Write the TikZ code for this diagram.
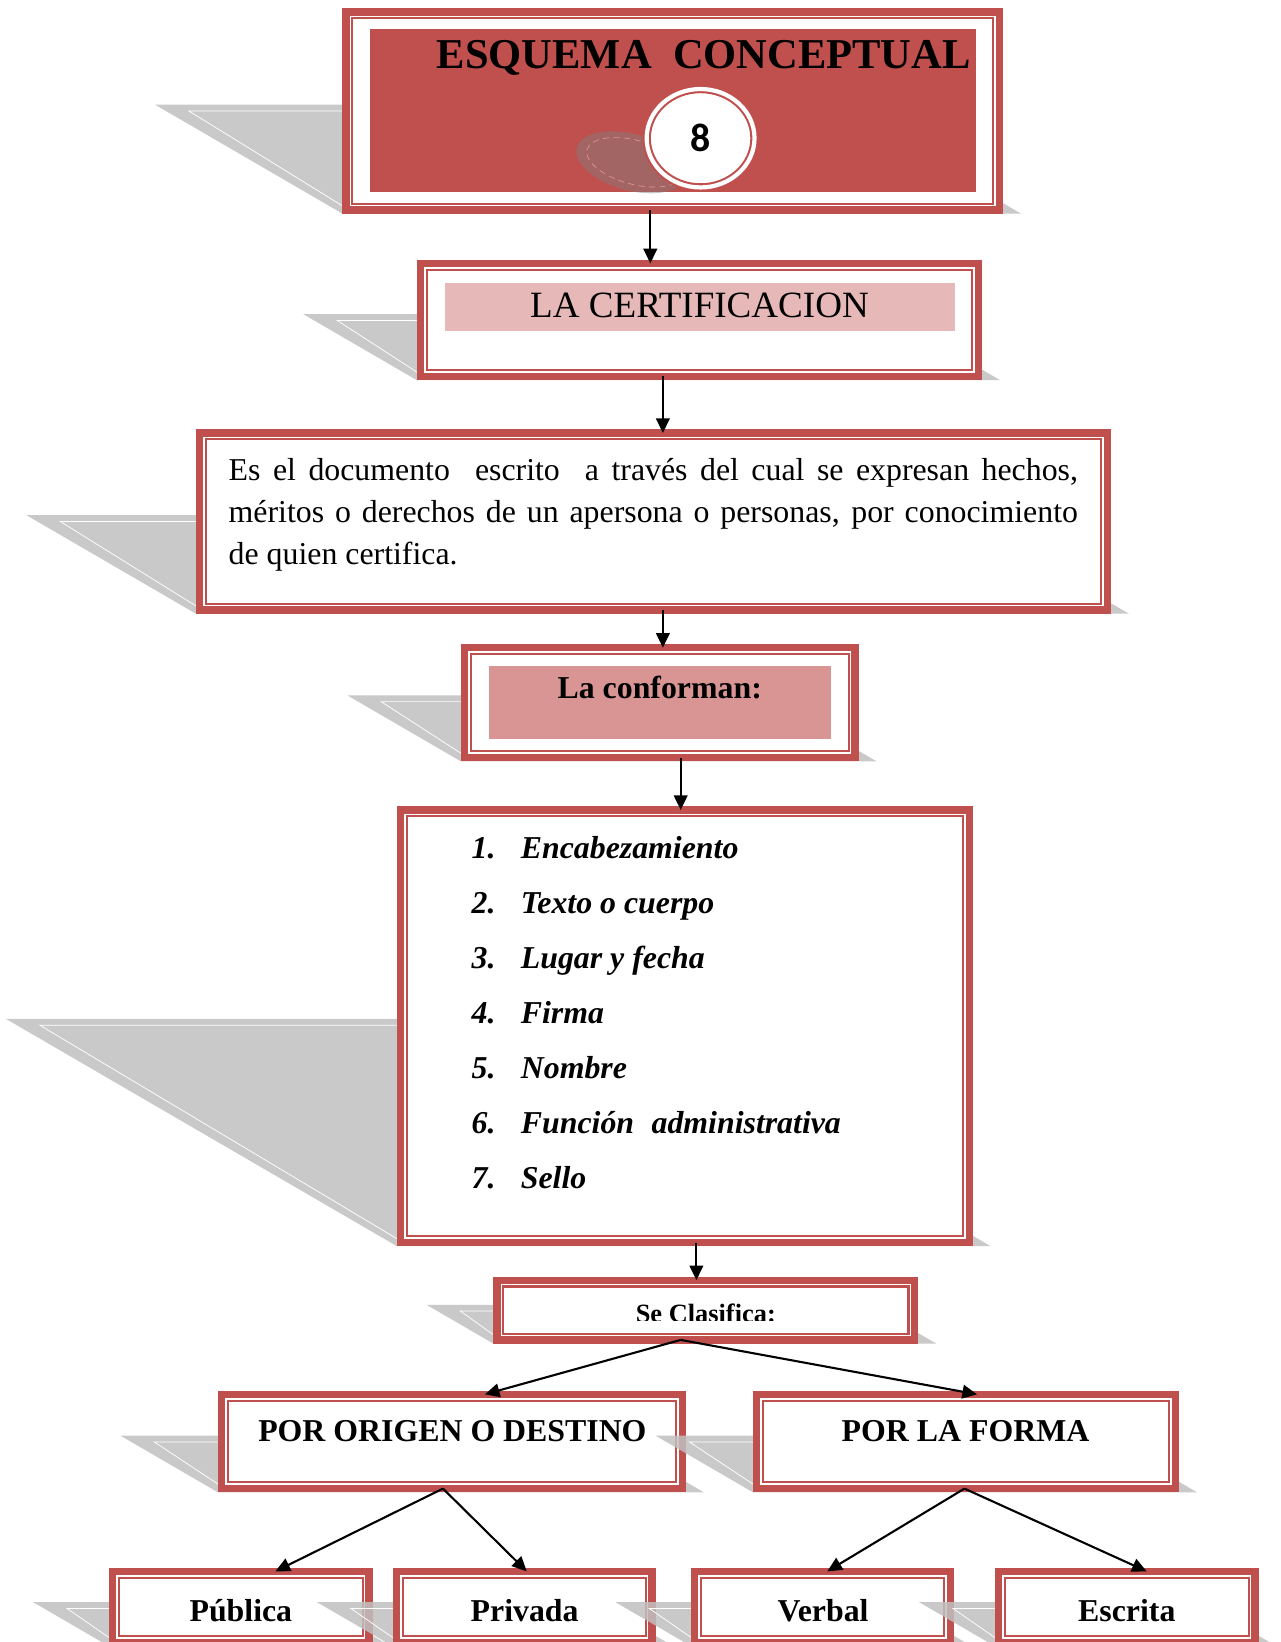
\documentclass[tikz,border=0pt]{standalone}
\usepackage{fontspec}
\setmainfont{Liberation Serif}
\newfontfamily\numfont{Carlito}
\usetikzlibrary{arrows.meta,calc,positioning,shapes.geometric}

\definecolor{certred}{HTML}{C0504D}
\definecolor{certpink}{HTML}{E6B8B7}
\definecolor{confpink}{HTML}{D99594}
\definecolor{shadowgrey}{HTML}{C0C0C0}

\tikzset{
  frame/.style 2 args={draw=certred, line width=3.5pt, fill=white,
    inner sep=0pt, outer sep=0pt,
    minimum width={(#1-7)*0.5pt}, minimum height={(#2-7)*0.5pt},
    path picture={\draw[certred, line width=1pt]
      ([shift={(3pt,-3pt)}]path picture bounding box.north west) rectangle
      ([shift={(-3pt,3pt)}]path picture bounding box.south east);}},
  numring/.style={ellipse, draw=certred, line width=1pt, double=white,
    double distance=2pt, fill=white, inner sep=0pt,
    minimum width=51.5pt, minimum height=47pt,
    font=\numfont\fontsize{19}{22}\selectfont\bfseries},
  titlelabel/.style={inner sep=0pt, font=\fontsize{20.3}{24}\selectfont\bfseries},
  plainlabel/.style={inner sep=0pt, font=\fontsize{17.7}{21}\selectfont},
  boldlabel/.style={inner sep=0pt, font=\fontsize{15.2}{18}\selectfont\bfseries},
  itemlabel/.style={inner sep=0pt, anchor=base west,
    font=\fontsize{15.2}{18}\selectfont\bfseries\itshape},
  link/.style={line width=1pt, -{Triangle[length=7pt,width=6.5pt]}}
}

% box with its grey drop shadow: name, x0, y0, x1, y1, shadow height
\newcommand{\certframe}[6]{%
  \fill[shadowgrey, fill opacity=.85] ({#2},{#5}) -- ({#4+17},{#5})
    -- ({#4+17-1.72*#6},{#5-#6}) -- ({#2-1.72*#6},{#5-#6}) -- cycle;
  \draw[white, line width=.35pt] ({#2+12},{#5}) -- ({#2+22-1.72*#6+10.3},{#5-#6+6})
    -- ({#4-20},{#5-#6+6});
  \node[frame={#4-#2}{#5-#3}] (#1) at ({(#2+#4)/2},{(#3+#5)/2}) {};}

\begin{document}
\begin{tikzpicture}[x=0.5pt, y=-0.5pt]

  \useasboundingbox (0,0) rectangle (1223,1568);
  \clip (0,0) rectangle (1223,1568);

  \certframe{title}{327}{8}{958}{204}{104}
  \fill[certred] (353,28) rectangle (932,183);
  \node[titlelabel] (titletext) at (672,55) {ESQUEMA\ \ CONCEPTUAL};
  \fill[gray, opacity=.45, rotate around={-15:(603,155)}]
    (603,155) ellipse [x radius=54, y radius=27];
  \draw[certpink!70!certred, densely dashed, line width=.3pt, rotate around={-15:(606,155)}]
    (606,155) ellipse [x radius=47, y radius=21];
  \node[numring] (num) at (669,132) {8};

  \certframe{cert}{398}{248}{938}{363}{63}
  \fill[certpink] (425,270) rectangle (912,316);
  \node[plainlabel] (certtext) at (668,292) {LA CERTIFICACION};

  \certframe{defn}{187}{410}{1061}{586}{94}
  \node[anchor=base west, inner sep=0pt, font=\fontsize{15.2}{20}\selectfont]
    (defntext) at (218,459) {\parbox[t]{405.5pt}{Es el documento\ \ escrito\ \ a
    través del cual se expresan hechos,\linebreak méritos o derechos de un
    apersona o personas, por conocimiento\linebreak de quien certifica.}};

  \certframe{conf}{440}{615}{820}{727}{63}
  \fill[confpink] (467,636) rectangle (794,706);
  \node[boldlabel] (conftext) at (630,657) {La conforman:};

  \certframe{list}{379}{770}{929}{1190}{217}
  \foreach \entry [count=\i] in {Encabezamiento, Texto o cuerpo, Lugar y fecha,
      Firma, Nombre, Función\hspace{.55em}administrativa, Sello} {
    \node[itemlabel] (num\i) at (450,{820+52.5*(\i-1)}) {\i.};
    \node[itemlabel] (item\i) at (497,{820+52.5*(\i-1)}) {\entry};
  }

  \certframe{clas}{471}{1219}{877}{1283}{37}
  \begin{scope}
    \clip (471,1219) rectangle (877,1261);
    \node[anchor=base, inner sep=0pt, font=\fontsize{12.6}{14}\selectfont\bfseries]
      (clastext) at (674,1263) {Se Clasifica:};
  \end{scope}

  \certframe{origen}{208}{1328}{655}{1425}{54}
  \node[boldlabel] (origentext) at (432,1367) {POR ORIGEN O DESTINO};

  \certframe{forma}{719}{1328}{1126}{1425}{54}
  \node[boldlabel] (formatext) at (922,1367) {POR LA FORMA};

  \certframe{publica}{104}{1497}{356}{1572}{42}
  \node[boldlabel] (publicatext) at (230,1538) {Pública};

  \certframe{privada}{375}{1497}{626}{1572}{42}
  \node[boldlabel] (privadatext) at (501,1538) {Privada};

  \certframe{verbal}{660}{1497}{911}{1572}{42}
  \node[boldlabel] (verbaltext) at (786,1538) {Verbal};

  \certframe{escrita}{950}{1497}{1202}{1572}{42}
  \node[boldlabel] (escritatext) at (1076,1538) {Escrita};

  \draw [link] (title.south -| 621,0) -- (cert.north -| 621,0) ;

  \draw [link] (cert.south -| 633,0) -- (defn.north -| 633,0) ;

  \draw [link] (defn.south -| 633,0) -- (conf.north -| 633,0) ;

  \draw [link] (conf.south -| 650,0) -- (list.north -| 650,0) ;

  \draw [link] (list.south -| 665,0) -- (clas.north -| 665,0) ;

  \draw [link] (clas.south -| 650,0) -- (origen.north -| 463,0) ;
  \draw [link] (clas.south -| 650,0) -- (forma.north -| 933,0) ;

  \draw [link] (origen.south -| 423,0) -- (publica.north -| 263,0) ;
  \draw [link] (origen.south -| 423,0) -- (privada.north -| 503,0) ;

  \draw [link] (forma.south -| 921,0) -- (verbal.north -| 790,0) ;
  \draw [link] (forma.south -| 921,0) -- (escrita.north -| 1095,0) ;

\end{tikzpicture}
\end{document}
